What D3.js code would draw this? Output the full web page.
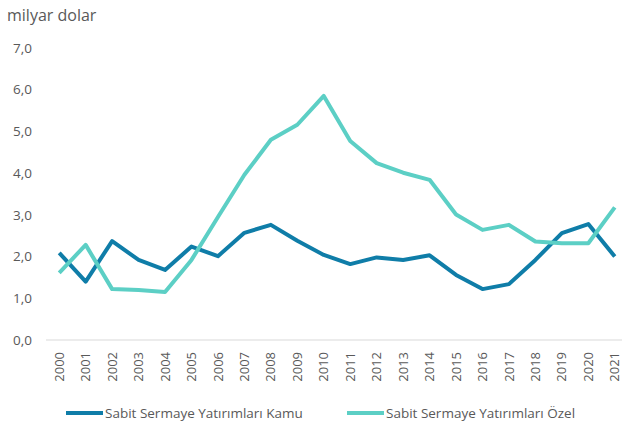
<!DOCTYPE html>
<html>
<head>
<meta charset="utf-8">
<script src="https://cdn.jsdelivr.net/npm/d3@7"></script>
<style>
  body { margin: 0; background: #fff; }
  svg text { font-family: "Open Sans", sans-serif; fill: #595959; }
</style>
</head>
<body>
<svg id="chart" width="622" height="427"></svg>
<script>
// donnees
var years = ["2000","2001","2002","2003","2004","2005","2006","2007","2008","2009","2010",
             "2011","2012","2013","2014","2015","2016","2017","2018","2019","2020","2021"];
var kamu = [2.09, 1.40, 2.37, 1.92, 1.68, 2.24, 2.01, 2.57, 2.76, 2.38, 2.04,
            1.82, 1.98, 1.92, 2.03, 1.56, 1.22, 1.34, 1.92, 2.56, 2.78, 2.00];
var ozel = [1.61, 2.28, 1.22, 1.20, 1.15, 1.92, 2.95, 3.96, 4.80, 5.16, 5.85,
            4.77, 4.24, 4.01, 3.84, 3.01, 2.64, 2.76, 2.36, 2.32, 2.32, 3.18];
var yTicks = [0, 1, 2, 3, 4, 5, 6, 7];
var seriesNames = ["Sabit Sermaye Yatırımları Kamu", "Sabit Sermaye Yatırımları Özel"];
var colors = ["#0f7da8", "#5ccfc5"];

var svg = d3.select("#chart");

var x = d3.scalePoint()
  .domain(years)
  .range([46, 628])
  .padding(0.5);

var y = d3.scaleLinear()
  .domain([0, 7])
  .range([340, 48]);

// titre axe
svg.append("text")
  .attr("x", 7)
  .attr("y", 21)
  .attr("font-size", "16px")
  .text("milyar dolar");

// axe y (labels seulement)
svg.selectAll(".ylab")
  .data(yTicks)
  .enter().append("text")
    .attr("class", "ylab")
    .attr("x", 32)
    .attr("y", d => y(d))
    .attr("dy", "0.35em")
    .attr("text-anchor", "end")
    .attr("font-size", "13.5px")
    .text(d => d3.format(".1f")(d).replace(".", ","));

// ligne de base
svg.append("line")
  .attr("x1", 46).attr("x2", 622)
  .attr("y1", y(0)).attr("y2", y(0))
  .attr("stroke", "#d9d9d9")
  .attr("stroke-width", 1);

// labels x
svg.selectAll(".xlab")
  .data(years)
  .enter().append("text")
    .attr("class", "xlab")
    .attr("transform", d => "translate(" + x(d) + ",352) rotate(-90)")
    .attr("dy", "0.35em")
    .attr("text-anchor", "end")
    .attr("font-size", "13px")
    .text(d => d);

var line = d3.line()
  .x((d, i) => x(years[i]))
  .y(d => y(d));

[kamu, ozel].forEach(function(s, k) {
  svg.append("path")
    .datum(s)
    .attr("fill", "none")
    .attr("stroke", colors[k])
    .attr("stroke-width", 4)
    .attr("stroke-linejoin", "round")
    .attr("d", line);
});

// legende
var legX = [66, 347];
seriesNames.forEach(function(n, k) {
  svg.append("line")
    .attr("x1", legX[k]).attr("x2", legX[k] + 37)
    .attr("y1", 413).attr("y2", 413)
    .attr("stroke", colors[k])
    .attr("stroke-width", 4);
  svg.append("text")
    .attr("x", legX[k] + 39)
    .attr("y", 413)
    .attr("dy", "0.35em")
    .attr("font-size", "13.5px")
    .text(n);
});
</script>
</body>
</html>
